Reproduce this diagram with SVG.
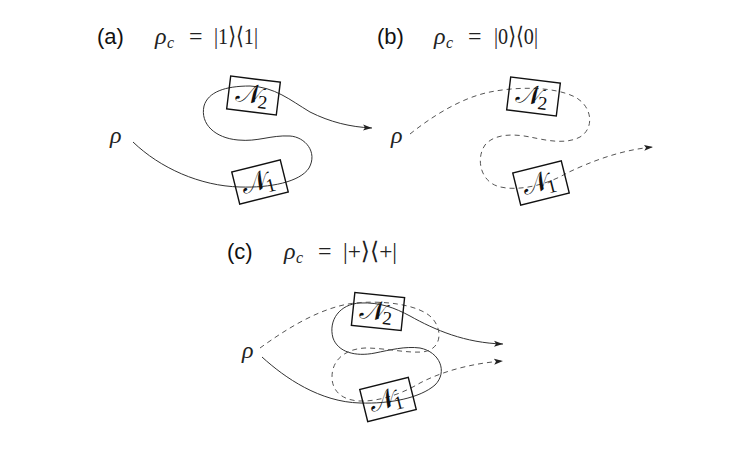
<svg xmlns="http://www.w3.org/2000/svg" width="754" height="453" viewBox="0 0 754 453">
<defs>
<marker id="arr" markerWidth="10" markerHeight="8" refX="9" refY="4" orient="auto" markerUnits="userSpaceOnUse">
<path d="M0,1 L9,4 L0,7 L2,4 z" fill="#222"/>
</marker>
<style>
.lbl{font-family:"Liberation Sans",Arial,sans-serif;font-size:22px;fill:#111}
.math{font-family:"Liberation Serif","DejaVu Serif",serif;font-size:24px;fill:#222}
.it{font-style:italic}
.sub{font-size:16px;font-style:italic}
.box{fill:none;stroke:#111;stroke-width:1.4}
.nl{font-family:"DejaVu Serif","Liberation Serif",serif;font-size:27px;fill:#111;text-anchor:middle}
.ns{font-family:"Liberation Serif","DejaVu Serif",serif;font-size:19px;fill:#111}
.solid{fill:none;stroke:#333;stroke-width:1}
.dash{fill:none;stroke:#555;stroke-width:1;stroke-dasharray:5 4}
</style>
</defs>
<rect width="754" height="453" fill="#fff"/>

<g id="titles">
<text class="lbl" x="97" y="44">(a)</text>
<text class="math" y="44"><tspan class="it" x="155">ρ</tspan><tspan class="sub" x="167" dy="4">c</tspan><tspan x="189" dy="-4">=</tspan><tspan x="214" textLength="44" lengthAdjust="spacingAndGlyphs">|1⟩⟨1|</tspan></text>
<text class="lbl" x="377" y="44">(b)</text>
<text class="math" y="44"><tspan class="it" x="434">ρ</tspan><tspan class="sub" x="446" dy="4">c</tspan><tspan x="468" dy="-4">=</tspan><tspan x="494" textLength="44" lengthAdjust="spacingAndGlyphs">|0⟩⟨0|</tspan></text>
<text class="lbl" x="227" y="259">(c)</text>
<text class="math" y="259"><tspan class="it" x="284">ρ</tspan><tspan class="sub" x="296" dy="4">c</tspan><tspan x="318" dy="-4">=</tspan><tspan x="343" textLength="54" lengthAdjust="spacingAndGlyphs">|+⟩⟨+|</tspan></text>
</g>

<g id="rho-labels">
<text class="math it" x="110" y="143">ρ</text>
<text class="math it" x="391" y="143">ρ</text>
<text class="math it" x="242" y="358">ρ</text>
</g>

<g id="connectors">
<path class="solid" marker-end="url(#arr)" d="M133,142 C160,168 200,186 240,187 C270,188 300,182 309,168 C318,152 305,137 290,136 C270,135 258,142 238,140 C215,138 200,124 204,106 C208,92 225,86 250,86 C275,87 290,100 310,112 C330,122 350,127 372,128"/>
<path class="dash" marker-end="url(#arr)" d="M410,134 C430,118 460,98 490,92 C520,86 555,87 575,97 C592,106 595,128 580,137 C565,145 545,140 530,137 C515,134 495,133 485,145 C476,158 480,180 497,186 C515,192 545,186 567,173 C590,162 620,150 653,147"/>
<path class="solid" marker-end="url(#arr)" d="M262,357 C285,378 320,402 360,403 C390,404 420,398 435,385 C448,372 440,352 420,348 C405,346 390,350 375,353 C355,357 338,352 333,338 C328,320 340,304 360,303 C380,302 395,308 410,316 C435,330 465,343 503,344"/>
<path class="dash" marker-end="url(#arr)" d="M260,348 C285,330 320,307 355,303 C385,300 420,305 432,318 C443,330 442,350 422,352 C405,353 385,348 365,348 C345,349 332,360 332,377 C332,393 345,402 365,401 C385,400 405,392 420,383 C445,370 475,363 503,361"/>
</g>

<g id="a-N2" transform="translate(253.5,95.5) rotate(7)">
<rect class="box" x="-25" y="-16.5" width="50" height="33"/>
<text class="nl" x="-5" y="8">𝒩</text><text class="ns" x="5" y="12">2</text>
</g>
<g id="a-N1" transform="translate(260,182) rotate(-14)">
<rect class="box" x="-25" y="-16.5" width="50" height="33"/>
<text class="nl" x="-5" y="8">𝒩</text><text class="ns" x="5" y="12">1</text>
</g>
<g id="b-N2" transform="translate(533.5,96.5) rotate(7)">
<rect class="box" x="-25" y="-16.5" width="50" height="33"/>
<text class="nl" x="-5" y="8">𝒩</text><text class="ns" x="5" y="12">2</text>
</g>
<g id="b-N1" transform="translate(541,183) rotate(-14)">
<rect class="box" x="-25" y="-16.5" width="50" height="33"/>
<text class="nl" x="-5" y="8">𝒩</text><text class="ns" x="5" y="12">1</text>
</g>
<g id="c-N2" transform="translate(378,311.5) rotate(6)">
<rect class="box" x="-25" y="-16.5" width="50" height="33"/>
<text class="nl" x="-5" y="8">𝒩</text><text class="ns" x="5" y="12">2</text>
</g>
<g id="c-N1" transform="translate(388,399.5) rotate(-14)">
<rect class="box" x="-25" y="-16.5" width="50" height="33"/>
<text class="nl" x="-5" y="8">𝒩</text><text class="ns" x="5" y="12">1</text>
</g>
</svg>
